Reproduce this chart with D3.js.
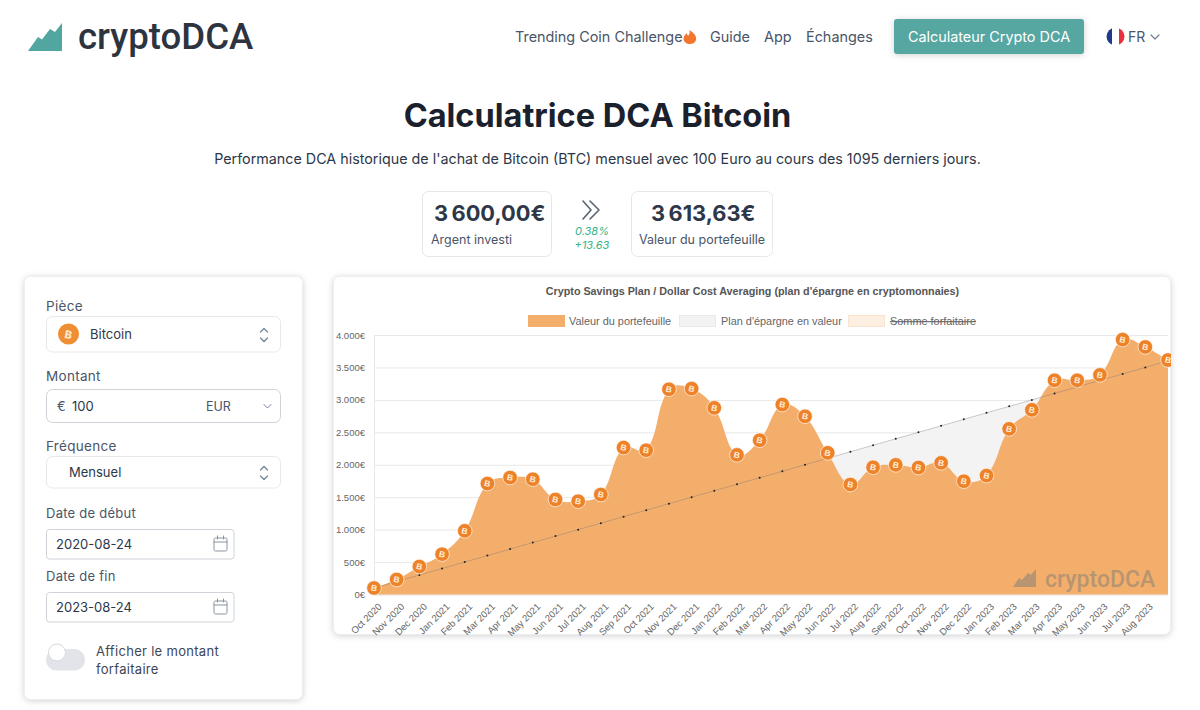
<!DOCTYPE html>
<html lang="fr"><head><meta charset="utf-8"><title>Calculatrice DCA Bitcoin</title>
<script src="https://cdnjs.cloudflare.com/ajax/libs/d3/7.8.5/d3.min.js"></script>
<style>
html,body{margin:0;padding:0;background:#fff;overflow:hidden}
svg{display:block}
text{font-family:Inter,"Noto Sans",sans-serif}
.chart text{font-family:"Liberation Sans",Arial,sans-serif}
.shadow{filter:drop-shadow(0 1px 3px rgba(0,0,0,.18))}
</style></head><body>
<svg id="page" width="1200" height="710" viewBox="0 0 1200 710"></svg>
<script>
const categories = ["Oct 2020","Nov 2020","Dec 2020","Jan 2021","Feb 2021","Mar 2021","Apr 2021","May 2021","Jun 2021","Jul 2021","Aug 2021","Sep 2021","Oct 2021","Nov 2021","Dec 2021","Jan 2022","Feb 2022","Mar 2022","Apr 2022","May 2022","Jun 2022","Jul 2022","Aug 2022","Sep 2022","Oct 2022","Nov 2022","Dec 2022","Jan 2023","Feb 2023","Mar 2023","Apr 2023","May 2023","Jun 2023","Jul 2023","Aug 2023","Sep 2023"];
const tickLabels = categories.slice(0, 35);
const portfolioValues = [100,231,431,621,981,1710,1803,1777,1464,1438,1541,2265,2224,3164,3174,2877,2152,2378,2928,2747,2183,1695,1961,1998,1957,2029,1746,1833,2553,2846,3302,3302,3385,3929,3816,3613.63];
const savingsPlanValues = [100,200,300,400,500,600,700,800,900,1000,1100,1200,1300,1400,1500,1600,1700,1800,1900,2000,2100,2200,2300,2400,2500,2600,2700,2800,2900,3000,3100,3200,3300,3400,3500,3600];
const yTicks = [0,500,1000,1500,2000,2500,3000,3500,4000];
const legendLabels = ["Valeur du portefeuille","Plan d'épargne en valeur","Somme forfaitaire"];

const svg = d3.select("#page");
const T = (g,x,y,s,o={})=>{
  const e=g.append("text").attr("x",x).attr("y",y).attr("dominant-baseline","central").text(s)
    .attr("font-size",o.size||14).attr("fill",o.fill||"#4a5568").attr("font-weight",o.weight||400);
  if(o.anchor)e.attr("text-anchor",o.anchor);
  if(o.style)e.attr("font-style",o.style);
  if(o.family)e.style("font-family",o.family);
  if(o.ls)e.attr("letter-spacing",o.ls);
  return e;
};
const R=(g,x0,y0,x1,y1,o={})=>g.append("rect").attr("x",x0+.5).attr("y",y0+.5).attr("width",x1-x0-1).attr("height",y1-y0-1)
  .attr("rx",o.r||6).attr("fill",o.fill||"#fff").attr("stroke",o.stroke||"#e5e7eb").attr("class",o.cls||null);
const P=(g,d,stroke="#718096",w=1.2)=>g.append("path").attr("d",d).attr("fill","none").attr("stroke",stroke).attr("stroke-width",w).attr("stroke-linecap","round").attr("stroke-linejoin","round");

/* header */
const hd=svg.append("g");
hd.append("path").attr("d","M28 51 L38 37 L42 39.5 L50 29 L55 32 L62 23 L62 51 Z").attr("fill","#51a6a0");
T(hd,78,36.5,"cryptoDCA",{size:36.6,weight:500,fill:"#2d3440",family:"Roboto"});
T(hd,515,36,"Trending Coin Challenge",{size:14.4});
hd.append("path").attr("d","M689.5 30 C694.5 33 697 37 696 40 C695 43 692.5 44 690 44 C686.5 44 683.5 42 683.5 38.5 C683.5 36 685.5 35 686.5 33 C687 35 688 35.5 688.5 35.5 C689.5 34 690 32 689.5 30 Z").attr("fill","#f2762e");
T(hd,710,36,"Guide",{size:14.4});
T(hd,764,36,"App",{size:14.4});
T(hd,806,36,"Échanges",{size:14.4});
hd.append("rect").attr("x",894).attr("y",19).attr("width",190).attr("height",35).attr("rx",3).attr("fill","#56a6a2").attr("class","shadow");
T(hd,989,36,"Calculateur Crypto DCA",{size:14.4,fill:"#fff",anchor:"middle"});
const cp=svg.append("clipPath").attr("id","flag");cp.append("circle").attr("cx",1115.5).attr("cy",36.5).attr("r",9);
const fl=hd.append("g").attr("clip-path","url(#flag)");
fl.append("rect").attr("x",1106).attr("y",27).attr("width",6).attr("height",19).attr("fill","#1f3a8a");
fl.append("rect").attr("x",1112).attr("y",27).attr("width",7).attr("height",19).attr("fill","#fff");
fl.append("rect").attr("x",1119).attr("y",27).attr("width",6).attr("height",19).attr("fill","#e8303f");
T(hd,1128,36,"FR",{size:14});
P(hd,"M1151 35 L1155 39 L1159 35");

/* headline */
T(svg,597.5,115.5,"Calculatrice DCA Bitcoin",{size:32.5,weight:700,fill:"#1a202c",anchor:"middle"});
T(svg,597.5,158,"Performance DCA historique de l'achat de Bitcoin (BTC) mensuel avec 100 Euro au cours des 1095 derniers jours.",{size:14.32,fill:"#2d3748",anchor:"middle"});

/* stats */
R(svg,422,191,552,257);
T(svg,434,213,"3\u202f600,00€",{size:21.8,weight:700,fill:"#2d3748"});
T(svg,431,239,"Argent investi",{size:12.5});
R(svg,631,191,773,257);
T(svg,651,213,"3\u202f613,63€",{size:21.8,weight:700,fill:"#2d3748"});
T(svg,639,239,"Valeur du portefeuille",{size:12.5});
P(svg,"M583 201 L591 210 L583 219","#5a6472",1.6);
P(svg,"M590 201 L599 210 L590 219","#5a6472",1.6);
T(svg,592,231,"0.38%",{size:11,style:"italic",fill:"#38b48b",anchor:"middle"});
T(svg,592,245,"+13.63",{size:11,style:"italic",fill:"#38b48b",anchor:"middle"});

/* form */
const f=svg.append("g");
R(f,24,276,303,700,{cls:"shadow",stroke:"#eceef1"});
const updown=(x,y)=>{P(f,`M${x-3.5} ${y-3} L${x} ${y-6.5} L${x+3.5} ${y-3}`);P(f,`M${x-3.5} ${y+3} L${x} ${y+6.5} L${x+3.5} ${y+3}`);};
T(f,46,306,"Pièce",{size:13.5,ls:.3});
R(f,46,316,281,352.5,{stroke:"#e6e8ec"});
f.append("circle").attr("cx",68.5).attr("cy",334).attr("r",10.5).attr("fill","#ef8e32");
T(f,68.5,334.5,"B",{size:11,weight:800,fill:"#fde7cf",anchor:"middle"}).attr("transform","rotate(12 68.5 334)");
T(f,90,334,"Bitcoin",{size:13,fill:"#2d3748"});
updown(264,335);
T(f,46,376,"Montant",{size:13.5,ls:.3});
R(f,46,389,281,423,{stroke:"#ced3da"});
T(f,57,406,"€",{size:13});
T(f,72,406,"100",{size:13,fill:"#2d3748"});
T(f,206,406,"EUR",{size:12.5});
P(f,"M264 404.5 L267.5 408 L271 404.5","#718096",1);
T(f,46,446,"Fréquence",{size:13.5,ls:.3});
R(f,46,456,281,488.5,{stroke:"#e6e8ec"});
T(f,69,472,"Mensuel",{size:13,fill:"#2d3748"});
updown(264,473);
const cal=y=>{f.append("rect").attr("x",214).attr("y",y-6.5).attr("width",13).attr("height",13).attr("rx",1.5).attr("fill","none").attr("stroke","#8a93a0");
  P(f,`M214 ${y-2.5} H227`,"#8a93a0",1);P(f,`M217.5 ${y-8.5} V${y-5.5} M223.5 ${y-8.5} V${y-5.5}`,"#8a93a0",1);};
T(f,46,512.5,"Date de début",{size:13,ls:.25});
R(f,46,529,234.5,559.5,{r:3,stroke:"#ced3da"});
T(f,56,544,"2020-08-24",{size:13,fill:"#2d3748"});cal(544.5);
T(f,46,575.5,"Date de fin",{size:13,ls:.25});
R(f,46,592,234.5,622.5,{r:3,stroke:"#ced3da"});
T(f,56,607,"2023-08-24",{size:13,fill:"#2d3748"});cal(607.5);
f.append("rect").attr("x",46).attr("y",649).attr("width",39).attr("height",21.5).attr("rx",10.5).attr("fill","#e2e4e9");
f.append("circle").attr("cx",57).attr("cy",652.5).attr("r",8.5).attr("fill","#fff").attr("stroke","#d5d8dd");
T(f,96,651,"Afficher le montant",{size:13,ls:.3,fill:"#3d4656"});
T(f,96,669,"forfaitaire",{size:13,ls:.3,fill:"#3d4656"});

/* chart */
R(svg,333,276,1171,635,{cls:"shadow",stroke:"#eceef1"});
const c=svg.append("g").attr("class","chart");
T(c,752.5,291,"Crypto Savings Plan / Dollar Cost Averaging (plan d'épargne en cryptomonnaies)",{size:10.75,weight:700,fill:"#555",anchor:"middle"});

const legendX=[[528,569],[679,721],[848,890]];
const legendFill=["#f4ae6c","#f3f3f3","#fdeee2"];
const legendStroke=["#f4ae6c","#e9e9e9","#fbe3d0"];
legendLabels.forEach((l,i)=>{
  c.append("rect").attr("x",legendX[i][0]+.5).attr("y",315.5).attr("width",36).attr("height",11).attr("fill",legendFill[i]).attr("stroke",legendStroke[i]);
  const e=T(c,legendX[i][1],321,l,{size:10.9,fill:"#666"});
  if(i===2)e.attr("text-decoration","line-through");
});

const x=d3.scalePoint().domain(categories).range([374,1168]);
const y=d3.scaleLinear().domain([0,4000]).range([594.5,335]);

/* Chart.js-style tension spline, distance weighted */
function splineCurve(ctx){
  let pts=[];
  return {
    lineStart(){pts=[];},
    lineEnd(){
      const t=0.4;
      const cps=pts.map((p,i)=>{
        const a=pts[i-1]||p,b=pts[i+1]||p;
        const d01=Math.hypot(p[0]-a[0],p[1]-a[1]),d12=Math.hypot(b[0]-p[0],b[1]-p[1]);
        const s=d01+d12||1,fa=t*d01/s,fb=t*d12/s;
        return [[p[0]-fa*(b[0]-a[0]),p[1]-fa*(b[1]-a[1])],[p[0]+fb*(b[0]-a[0]),p[1]+fb*(b[1]-a[1])]];
      });
      pts.forEach((p,i)=>{
        if(i===0)ctx.moveTo(p[0],p[1]);
        else ctx.bezierCurveTo(cps[i-1][1][0],cps[i-1][1][1],cps[i][0][0],cps[i][0][1],p[0],p[1]);
      });
    },
    point(a,b){pts.push([+a,+b]);},
    areaStart(){},areaEnd(){}
  };
}
const linePath=vals=>d3.line().x((d,i)=>x(categories[i])).y(d=>y(d)).curve(splineCurve)(vals);
const areaPath=vals=>`${linePath(vals)}L${x(categories[categories.length-1])},${y(0)}L${x(categories[0])},${y(0)}Z`;

const yAxis=d3.axisLeft(y).tickValues(yTicks).tickSize(-(1168-374)).tickPadding(9)
  .tickFormat(d=>(d>=1000?d3.format(".3f")(d/1000):d)+"€");
const ya=c.append("g").attr("transform","translate(374,0)").call(yAxis);
ya.select(".domain").attr("stroke","#e8e8e8");
ya.selectAll("line").attr("stroke","#e8e8e8");
ya.selectAll("text").attr("font-size",9.5).attr("fill","#666");

c.append("path").attr("d",areaPath(savingsPlanValues)).attr("fill","#f3f3f3");
c.append("path").attr("d",areaPath(portfolioValues)).attr("fill","#f4ae6c");

const xAxis=d3.axisBottom(x).tickValues(tickLabels).tickSize(0);
const xa=c.append("g").attr("transform",`translate(0,${y(0)})`).call(xAxis);
xa.select(".domain").remove();
xa.selectAll("text").attr("font-size",9.5).attr("fill","#666").attr("text-anchor","end")
  .attr("dy",0).attr("y",0).attr("dominant-baseline","middle")
  .attr("transform","translate(6,11) rotate(-45)");

/* watermark */
c.append("path").attr("d","M1013 587 L1019 578 L1022 580 L1028 573 L1031 575 L1036 569 L1036 587 Z").attr("fill","#b69570");
T(c,1045,579,"cryptoDCA",{size:23,weight:500,fill:"#b69570",family:"Roboto"});

c.append("path").attr("d",linePath(savingsPlanValues)).attr("fill","none").attr("stroke","rgba(110,110,110,.35)").attr("stroke-width",1);
c.append("g").selectAll("circle").data(savingsPlanValues).join("circle")
  .attr("cx",(d,i)=>x(categories[i])).attr("cy",d=>y(d)).attr("r",1).attr("fill","#222");

svg.append("clipPath").attr("id","plotClip").append("rect").attr("x",360).attr("y",325).attr("width",811).attr("height",280);
const m=c.append("g").attr("clip-path","url(#plotClip)").selectAll("g").data(portfolioValues).join("g")
  .attr("transform",(d,i)=>`translate(${x(categories[i])},${y(d)})`);
m.append("circle").attr("r",7.3).attr("fill","#ee8228").attr("stroke","#fff").attr("stroke-opacity",.8).attr("stroke-width",.8);
m.append("text").text("B").attr("text-anchor","middle").attr("dominant-baseline","central").attr("font-size",8.5).attr("font-weight",700)
  .attr("fill","#fdeedd").attr("transform","rotate(12)");
</script></body></html>
